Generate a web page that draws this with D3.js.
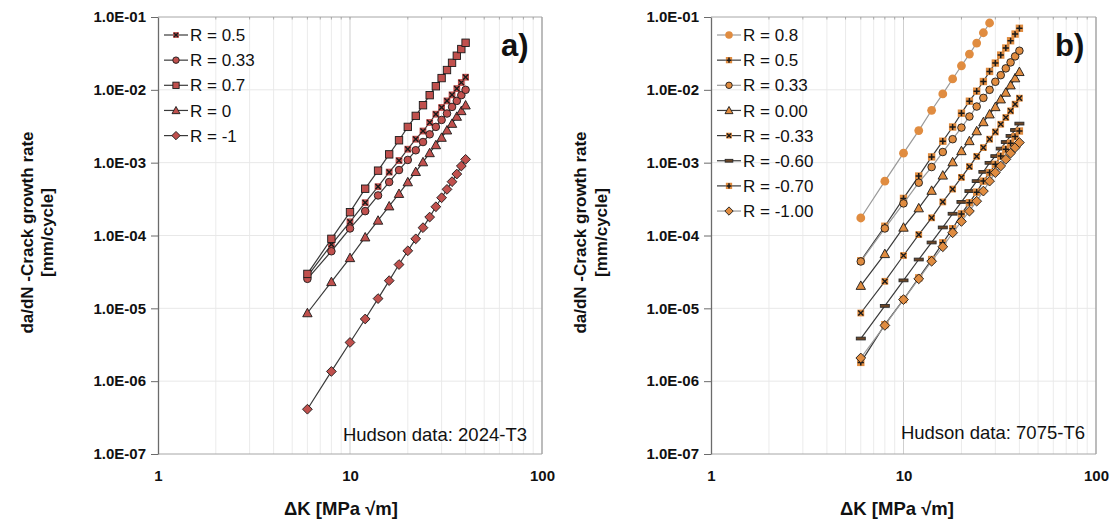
<!DOCTYPE html>
<html><head><meta charset="utf-8">
<script src="https://cdn.jsdelivr.net/npm/d3@7"></script>
<style>
body{margin:0;background:#fff}
text{font-family:"Liberation Sans",Arial,sans-serif}
</style></head>
<body><svg id="c" width="1114" height="522"></svg>
<script>
// ---------------- data ----------------
const dK = [6,8,10,12,14,16,18,20,22,24,26,28,30,32,34,36,38,40];
const yTickValues = [1e-7,1e-6,1e-5,1e-4,1e-3,1e-2,1e-1];
const yTickLabels = ["1.0E-07","1.0E-06","1.0E-05","1.0E-04","1.0E-03","1.0E-02","1.0E-01"];
const xTickValues = [1,10,100];
const xTickLabels = ["1","10","100"];

// Panel a) Hudson 2024-T3
const aNames = ["R = 0.5","R = 0.33","R = 0.7","R = 0","R = -1"];
const aR05  = [2.75e-5,7.52e-5,1.54e-4,2.82e-4,4.68e-4,7.43e-4,1.07e-3,1.53e-3,2.10e-3,2.72e-3,3.56e-3,4.63e-3,5.72e-3,7.05e-3,8.53e-3,1.04e-2,1.26e-2,1.49e-2];
const aR033 = [2.54e-5,6.08e-5,1.25e-4,2.16e-4,3.55e-4,5.42e-4,7.92e-4,1.09e-3,1.48e-3,1.92e-3,2.45e-3,3.10e-3,3.86e-3,4.73e-3,5.83e-3,7.05e-3,8.45e-3,1.00e-2];
const aR07  = [2.97e-5,9.00e-5,2.09e-4,4.39e-4,7.77e-4,1.30e-3,2.03e-3,3.10e-3,4.39e-3,6.15e-3,8.45e-3,1.12e-2,1.45e-2,1.87e-2,2.35e-2,2.94e-2,3.63e-2,4.43e-2];
const aR0   = [8.63e-6,2.31e-5,4.93e-5,9.48e-5,1.61e-4,2.53e-4,3.75e-4,5.42e-4,7.50e-4,1.02e-3,1.36e-3,1.75e-3,2.21e-3,2.79e-3,3.44e-3,4.30e-3,5.14e-3,6.15e-3];
const aRm1  = [4.12e-7,1.36e-6,3.40e-6,7.14e-6,1.36e-5,2.40e-5,3.99e-5,6.16e-5,9.00e-5,1.28e-4,1.79e-4,2.48e-4,3.30e-4,4.30e-4,5.48e-4,6.98e-4,8.99e-4,1.11e-3];

// Panel b) Hudson 7075-T6
const bNames = ["R = 0.8","R = 0.5","R = 0.33","R = 0.00","R = -0.33","R = -0.60","R = -0.70","R = -1.00"];
const bR08   = [1.74e-4,5.57e-4,1.35e-3,2.76e-3,5.24e-3,8.80e-3,1.41e-2,2.14e-2,3.10e-2,4.39e-2,6.08e-2,8.27e-2];
const bR05   = [4.5e-5,1.34e-4,3.23e-4,6.55e-4,1.20e-3,1.97e-3,3.09e-3,4.78e-3,6.98e-3,9.59e-3,1.30e-2,1.79e-2,2.33e-2,3.00e-2,3.75e-2,4.72e-2,5.83e-2,7.00e-2];
const bR033  = [4.4e-5,1.25e-4,2.76e-4,5.31e-4,8.71e-4,1.40e-3,2.10e-3,3.03e-3,4.30e-3,5.90e-3,7.75e-3,1.00e-2,1.29e-2,1.59e-2,1.97e-2,2.38e-2,2.88e-2,3.44e-2];
const bR000  = [2.05e-5,5.60e-5,1.29e-4,2.38e-4,4.14e-4,6.70e-4,1.02e-3,1.45e-3,1.99e-3,2.72e-3,3.62e-3,4.63e-3,5.83e-3,7.44e-3,9.20e-3,1.16e-2,1.45e-2,1.77e-2];
const bRm033 = [8.63e-6,2.35e-5,5.31e-5,1.03e-4,1.75e-4,2.89e-4,4.34e-4,6.28e-4,8.85e-4,1.22e-3,1.61e-3,2.10e-3,2.64e-3,3.37e-3,4.17e-3,5.14e-3,6.35e-3,7.68e-3];
const bRm060 = [3.85e-6,1.08e-5,2.42e-5,4.68e-5,8.02e-5,1.29e-4,1.99e-4,2.89e-4,4.07e-4,5.58e-4,7.48e-4,9.95e-4,1.23e-3,1.56e-3,1.92e-3,2.33e-3,2.81e-3,3.44e-3];
const bRm070 = [1.81e-6,5.96e-6,1.32e-5,2.62e-5,4.68e-5,7.94e-5,1.24e-4,1.98e-4,2.82e-4,3.94e-4,5.58e-4,7.30e-4,9.48e-4,1.23e-3,1.53e-3,1.85e-3,2.28e-3,2.72e-3];
const bRm100 = [2.08e-6,5.83e-6,1.32e-5,2.54e-5,4.43e-5,7.00e-5,1.09e-4,1.56e-4,2.16e-4,2.96e-4,4.07e-4,5.58e-4,7.30e-4,8.99e-4,1.11e-3,1.35e-3,1.61e-3,1.89e-3];

// ---------------- styling / layout ----------------
const RED = "#C0504D", ORANGE = "#E08C40", DARK = "#3a3a3a", GREY = "#9a9a9a";
const panels = [
  { x0:158, x1:542, label:"a)", note:"Hudson data:  2024-T3", noteX:527, noteY:441,
    titleX1:27, titleX2:47, xTitleX:341, legX:164,
    series:[
      {name:aNames[0], vals:aR05,  marker:"x",        fill:RED, line:DARK},
      {name:aNames[1], vals:aR033, marker:"circle",   fill:RED, line:DARK},
      {name:aNames[2], vals:aR07,  marker:"square",   fill:RED, line:DARK},
      {name:aNames[3], vals:aR0,   marker:"triangle", fill:RED, line:DARK},
      {name:aNames[4], vals:aRm1,  marker:"diamond",  fill:RED, line:DARK}
    ]},
  { x0:711, x1:1096, label:"b)", note:"Hudson data:  7075-T6", noteX:1085, noteY:439,
    titleX1:580, titleX2:601, xTitleX:897, legX:717,
    series:[
      {name:bNames[0], vals:bR08,   marker:"dot",      fill:ORANGE, line:GREY},
      {name:bNames[1], vals:bR05,   marker:"plus",     fill:ORANGE, line:DARK},
      {name:bNames[2], vals:bR033,  marker:"circle",   fill:ORANGE, line:GREY},
      {name:bNames[3], vals:bR000,  marker:"triangle", fill:ORANGE, line:DARK},
      {name:bNames[4], vals:bRm033, marker:"x",        fill:ORANGE, line:DARK},
      {name:bNames[5], vals:bRm060, marker:"dash",     fill:ORANGE, line:DARK},
      {name:bNames[6], vals:bRm070, marker:"plus",     fill:ORANGE, line:DARK},
      {name:bNames[7], vals:bRm100, marker:"diamond",  fill:ORANGE, line:GREY}
    ]}
];
const yTop = 17, yBot = 454;

const svg = d3.select("#c");
svg.append("rect").attr("width",1114).attr("height",522).attr("fill","#fff");

function drawMarker(g, type, fill, s){
  s = s || 1;
  const st = "#1a1a1a";
  if(type==="circle"){
    g.append("circle").attr("r",3.8*s).attr("fill",fill).attr("stroke",st).attr("stroke-width",0.9);
  } else if(type==="dot"){
    g.append("circle").attr("r",4.4*s).attr("fill",fill);
  } else if(type==="square"){
    g.append("rect").attr("x",-3.7*s).attr("y",-3.7*s).attr("width",7.4*s).attr("height",7.4*s)
      .attr("fill",fill).attr("stroke",st).attr("stroke-width",0.9);
  } else if(type==="triangle"){
    const h=4.7*s;
    g.append("path").attr("d",`M0,${-h}L${h},${h*0.8}L${-h},${h*0.8}Z`)
      .attr("fill",fill).attr("stroke",st).attr("stroke-width",0.9);
  } else if(type==="diamond"){
    const h=4.9*s;
    g.append("path").attr("d",`M0,${-h}L${h},0L0,${h}L${-h},0Z`)
      .attr("fill",fill).attr("stroke",st).attr("stroke-width",0.9);
  } else if(type==="x"){
    const h=3.4*s;
    g.append("rect").attr("x",-h).attr("y",-h).attr("width",2*h).attr("height",2*h).attr("fill",fill);
    g.append("path").attr("d",`M${-h+0.8},${-h+0.8}L${h-0.8},${h-0.8}M${h-0.8},${-h+0.8}L${-h+0.8},${h-0.8}`)
      .attr("stroke",st).attr("stroke-width",1.4);
  } else if(type==="plus"){
    const h=3.7*s;
    g.append("rect").attr("x",-h).attr("y",-h).attr("width",2*h).attr("height",2*h).attr("fill",fill);
    g.append("path").attr("d",`M0,${-h+0.6}L0,${h-0.6}M${-h+0.6},0L${h-0.6},0`)
      .attr("stroke",st).attr("stroke-width",1.5);
  } else if(type==="dash"){
    g.append("rect").attr("x",-4.5*s).attr("y",-1.4).attr("width",9*s).attr("height",2.8)
      .attr("fill","#6b4525").attr("stroke","#2a2a2a").attr("stroke-width",0.9);
  }
}

const TF = '"Liberation Sans",Arial,sans-serif';
panels.forEach(p=>{
  const x = d3.scaleLog().domain([1,100]).range([p.x0,p.x1]);
  const y = d3.scaleLog().domain([1e-7,1e-1]).range([yBot,yTop]);
  const g = svg.append("g");

  const minors = [];
  [1,10].forEach(dec=>{ for(let k=2;k<=9;k++) minors.push(dec*k); });
  g.selectAll(".vmin").data(minors).enter().append("line")
    .attr("x1",d=>x(d)).attr("x2",d=>x(d)).attr("y1",yTop).attr("y2",yBot)
    .attr("stroke","#ebebeb").attr("stroke-width",1);
  g.append("line").attr("x1",x(10)).attr("x2",x(10)).attr("y1",yTop).attr("y2",yBot)
    .attr("stroke","#cfcfcf").attr("stroke-width",1);
  g.selectAll(".hmaj").data(yTickValues.slice(1,-1)).enter().append("line")
    .attr("x1",p.x0).attr("x2",p.x1).attr("y1",d=>y(d)).attr("y2",d=>y(d))
    .attr("stroke","#e8e8e8").attr("stroke-width",1);

  g.append("line").attr("x1",p.x0).attr("x2",p.x1).attr("y1",yTop).attr("y2",yTop).attr("stroke","#a6a6a6");
  g.append("line").attr("x1",p.x1).attr("x2",p.x1).attr("y1",yTop).attr("y2",yBot).attr("stroke","#a6a6a6").attr("stroke-width",1.5);
  g.append("line").attr("x1",p.x0).attr("x2",p.x1).attr("y1",yBot).attr("y2",yBot).attr("stroke","#a6a6a6");
  g.selectAll(".tt").data(minors.concat([10])).enter().append("line")
    .attr("x1",d=>x(d)).attr("x2",d=>x(d)).attr("y1",yTop).attr("y2",yTop+2.5)
    .attr("stroke","#999").attr("stroke-width",0.8);

  const ya = g.append("g").attr("transform",`translate(${p.x0},0)`)
    .call(d3.axisLeft(y).tickValues(yTickValues).tickFormat((d,i)=>yTickLabels[i]).tickSizeInner(7).tickSizeOuter(0).tickPadding(5));
  ya.select(".domain").attr("stroke","#6b6b6b").attr("stroke-width",1.3);
  ya.selectAll(".tick line").attr("stroke","#6b6b6b");
  ya.selectAll("text").attr("font-size",15).attr("font-weight","bold").attr("fill","#111").style("font-family",TF);

  const xa = g.append("g").attr("transform",`translate(0,${yBot})`)
    .call(d3.axisBottom(x).tickValues(xTickValues).tickFormat((d,i)=>xTickLabels[i]).tickSize(0).tickPadding(16));
  xa.select(".domain").remove();
  xa.selectAll("text").attr("font-size",15).attr("font-weight","bold").attr("fill","#111").style("font-family",TF);

  const line = d3.line().x(d=>x(d[0])).y(d=>y(d[1]));
  p.series.forEach(s=>{
    const pts = s.vals.map((v,i)=>[dK[i],v]);
    g.append("path").attr("d",line(pts)).attr("fill","none").attr("stroke",s.line).attr("stroke-width",1.2);
    const mg = g.append("g");
    pts.forEach(pt=>{
      const m = mg.append("g").attr("transform",`translate(${x(pt[0])},${y(pt[1])})`);
      drawMarker(m, s.marker, s.fill);
    });
  });

  p.series.forEach((s,i)=>{
    const ly = 35 + i*25.15;
    const lg = g.append("g");
    lg.append("line").attr("x1",p.legX).attr("x2",p.legX+24).attr("y1",ly).attr("y2",ly)
      .attr("stroke",s.line).attr("stroke-width",1.2);
    const m = lg.append("g").attr("transform",`translate(${p.legX+12},${ly})`);
    drawMarker(m, s.marker, s.fill, 0.85);
    lg.append("text").attr("x",p.legX+26).attr("y",ly).attr("dy","0.36em")
      .attr("font-size",17).attr("fill","#111").text(s.name);
  });

  g.append("text").attr("x",p.x1-41).attr("y",56).attr("font-size",31).attr("font-weight","bold")
    .attr("fill","#111").text(p.label);
  g.append("text").attr("x",p.noteX).attr("y",p.noteY).attr("text-anchor","end")
    .attr("font-size",18.5).attr("fill","#111").text(p.note);

  g.append("text").attr("x",p.xTitleX).attr("y",508).attr("dy","0.36em").attr("text-anchor","middle")
    .attr("font-size",18.5).attr("font-weight","bold").attr("fill","#111").text("ΔK [MPa √m]");
  const cy = (yTop+yBot)/2 - 3;
  g.append("text").attr("transform",`translate(${p.titleX1},${cy}) rotate(-90)`).attr("dy","0.36em")
    .attr("text-anchor","middle").attr("font-size",17).attr("font-weight","bold").attr("fill","#111")
    .text("da/dN -Crack growth rate");
  g.append("text").attr("transform",`translate(${p.titleX2},${cy}) rotate(-90)`).attr("dy","0.36em")
    .attr("text-anchor","middle").attr("font-size",17).attr("font-weight","bold").attr("fill","#111")
    .text("[mm/cycle]");
});
</script></body></html>
